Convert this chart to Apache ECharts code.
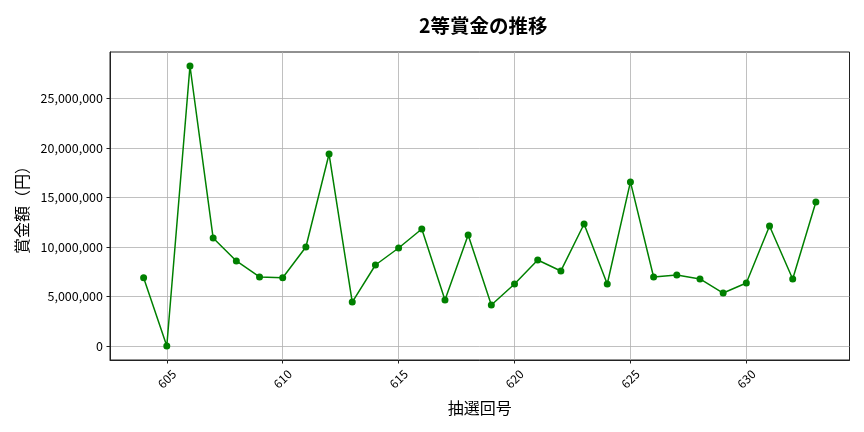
<!DOCTYPE html>
<html><head><meta charset="utf-8">
<script src="https://cdn.jsdelivr.net/npm/echarts@6/dist/echarts.min.js"></script>
<style>html,body{margin:0;padding:0;background:#fff}#c{width:864px;height:432px}</style>
</head><body><div id="c"></div>
<script>
const rounds = [604,605,606,607,608,609,610,611,612,613,614,615,616,617,618,619,620,621,622,623,624,625,626,627,628,629,630,631,632,633];
const prizes = [6900000,0,28280000,10900000,8590000,6970000,6900000,10000000,19390000,4440000,8180000,9900000,11820000,4650000,11210000,4140000,6260000,8690000,7580000,12320000,6260000,16570000,6970000,7170000,6770000,5350000,6360000,12120000,6770000,14550000];
const xTicks = [605,610,615,620,625,630];
const yTicks = [0,5000000,10000000,15000000,20000000,25000000];
const titleText = '2等賞金の推移';
const xName = '抽選回号';
const yName = '賞金額（円）';

const FONT = '"Noto Sans CJK JP","Noto Sans",sans-serif';
const chart = echarts.init(document.getElementById('c'), null, {renderer:'canvas'});
chart.setOption({
  animation:false,
  backgroundColor:'#fff',
  title:{text:titleText,left:414,top:11,textStyle:{fontFamily:FONT,fontSize:19.5,fontWeight:'bold',color:'#000'}},
  grid:{left:110,right:14.5,top:52,bottom:72,show:true,borderColor:'#222',borderWidth:1,containLabel:false},
  xAxis:{type:'value',min:602.55,max:634.45,
    name:xName,nameLocation:'middle',nameGap:40,
    nameTextStyle:{fontFamily:FONT,fontSize:16,color:'#000'},
    axisLine:{show:true,onZero:false,lineStyle:{color:'#222',width:1}},
    axisTick:{show:true,length:3.5,customValues:xTicks,lineStyle:{color:'#222'}},
    axisLabel:{customValues:xTicks,rotate:45,margin:19,align:'center',verticalAlign:'middle',fontFamily:FONT,fontSize:12,color:'#000'},
    splitLine:{show:true,lineStyle:{color:'#b0b0b0',width:0.8}}},
  yAxis:{type:'value',min:-1414000,max:29694000,
    name:yName,nameLocation:'middle',nameGap:80,nameRotate:90,
    nameTextStyle:{fontFamily:FONT,fontSize:16,color:'#000'},
    axisLine:{show:true,onZero:false,lineStyle:{color:'#222',width:1}},
    axisTick:{show:true,length:3.5,customValues:yTicks,lineStyle:{color:'#222'}},
    axisLabel:{customValues:yTicks,margin:7,fontFamily:FONT,fontSize:12.5,color:'#000',
      formatter:v=>Math.round(v).toLocaleString('en-US')},
    splitLine:{show:true,lineStyle:{color:'#b0b0b0',width:0.8}}},
  series:[{type:'line',data:rounds.map((r,i)=>[r,prizes[i]]),
    symbol:'circle',symbolSize:7,showSymbol:true,
    lineStyle:{color:'#008000',width:1.5},itemStyle:{color:'#008000'}}]
});
</script></body></html>
